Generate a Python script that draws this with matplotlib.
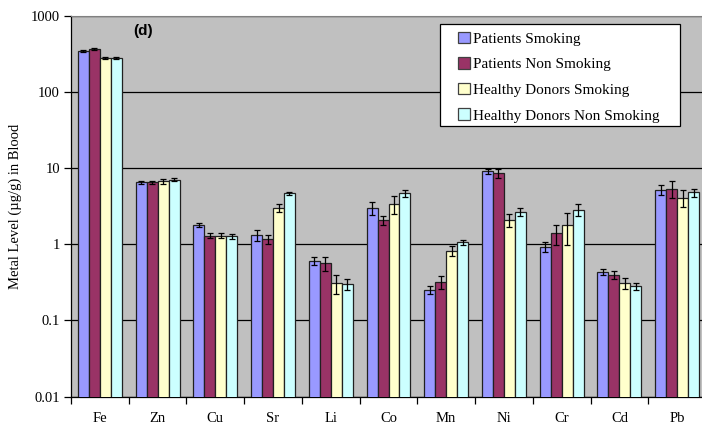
"""
Metal levels in blood for smoking / non smoking patients and healthy donors
"""
import numpy as np
import matplotlib.pyplot as plt
from matplotlib.patches import Rectangle
from matplotlib.ticker import FixedLocator, FixedFormatter, NullLocator

metals = ['Fe', 'Zn', 'Cu', 'Sr', 'Li', 'Co', 'Mn', 'Ni', 'Cr', 'Cd', 'Pb']

groups = {
    'Patients Smoking': '#9999ff',
    'Patients Non Smoking': '#993366',
    'Healthy Donors Smoking': '#ffffcc',
    'Healthy Donors Non Smoking': '#ccffff',
}

pat_smoking = [350, 6.5, 1.79, 1.32, 0.61, 3.0, 0.25, 9.1, 0.93, 0.43, 5.2]
pat_non_smoking = [365, 6.5, 1.3, 1.16, 0.57, 2.08, 0.32, 8.6, 1.39, 0.40, 5.4]
hd_smoking = [280, 6.7, 1.3, 3.0, 0.31, 3.4, 0.82, 2.1, 1.77, 0.31, 4.1]
hd_non_smoking = [280, 7.1, 1.27, 4.66, 0.30, 4.66, 1.06, 2.68, 2.84, 0.28, 4.8]

err_pat_smoking = [10, 0.25, 0.12, 0.2, 0.08, 0.6, 0.03, 0.7, 0.13, 0.04, 0.8]
err_pat_non_smoking = [12, 0.3, 0.1, 0.15, 0.12, 0.3, 0.06, 1.2, 0.4, 0.05, 1.3]
err_hd_smoking = [8, 0.5, 0.1, 0.35, 0.09, 0.9, 0.12, 0.4, 0.8, 0.05, 1.0]
err_hd_non_smoking = [6, 0.3, 0.1, 0.25, 0.05, 0.5, 0.08, 0.3, 0.5, 0.03, 0.6]

y_ticks = [0.01, 0.1, 1, 10, 100, 1000]
y_labels = ['0.01', '0.1', '1', '10', '100', '1000']


def main():
    plt.rcParams['font.family'] = 'Liberation Serif'
    fig = plt.figure(figsize=(7.02, 4.26), dpi=100)
    # plot area runs a bit past the right edge of the figure
    ax = fig.add_axes([71 / 702, 1 - 396.5 / 426, 635 / 702, 380.5 / 426])
    ax.set_facecolor('#c0c0c0')

    values = [pat_smoking, pat_non_smoking, hd_smoking, hd_non_smoking]
    errors = [err_pat_smoking, err_pat_non_smoking, err_hd_smoking, err_hd_non_smoking]
    x = np.arange(len(metals))
    width = 0.19
    for i, (name, vals, errs) in enumerate(zip(groups, values, errors)):
        pos = x + (i - 1.5) * width
        ax.bar(pos, vals, width, color=groups[name], edgecolor='#202020',
               linewidth=0.9, label=name, zorder=3)
        ax.errorbar(pos, vals, yerr=errs, fmt='none', ecolor='black',
                    elinewidth=0.9, capsize=2.5, capthick=0.9, zorder=4)

    ax.set_yscale('log')
    ax.set_ylim(0.01, 1000)
    ax.yaxis.set_major_locator(FixedLocator(y_ticks))
    ax.yaxis.set_major_formatter(FixedFormatter(y_labels))
    ax.yaxis.set_minor_locator(NullLocator())
    ax.grid(axis='y', color='black', linewidth=0.9, zorder=1)
    ax.set_axisbelow(True)

    ax.set_xlim(-0.5, len(metals) - 0.5)
    ax.set_xticks(x)
    ax.set_xticklabels(metals)
    ax.set_xticks(np.arange(len(metals) + 1) - 0.5, minor=True)
    ax.tick_params(axis='x', which='major', length=0, pad=11.5, labelsize=10.5)
    ax.tick_params(axis='x', which='minor', length=5, direction='out', width=0.9)
    ax.tick_params(axis='y', length=5, direction='out', width=0.9, labelsize=10.5, pad=3)

    for side in ['top', 'right']:
        ax.spines[side].set_color('#808080')
    for side in ['left', 'bottom']:
        ax.spines[side].set_color('black')
        ax.spines[side].set_linewidth(0.9)

    ax.set_ylabel('Metal Level (\u00b5g/g) in Blood', fontsize=10.5, labelpad=6)
    fig.text(133 / 702, 1 - 31 / 426, '(d)', family='Liberation Sans',
             fontsize=11, fontweight='bold', va='center', ha='left')

    # legend box drawn by hand: wider side padding than the legend frame allows
    box = Rectangle((439.5 / 702, 1 - 125.5 / 426), 240 / 702, 101.5 / 426,
                    transform=fig.transFigure, facecolor='white', edgecolor='black',
                    linewidth=0.9, zorder=6, clip_on=False)
    ax.add_patch(box)
    leg = ax.legend(loc='upper left', bbox_to_anchor=(455 / 702, 1 - 28.5 / 426),
                    bbox_transform=fig.transFigure, fontsize=11, frameon=False,
                    handlelength=0.8, handleheight=0.8, handletextpad=0.2,
                    labelspacing=0.75, borderpad=0.2, borderaxespad=0)
    leg.set_zorder(7)
    for handle in leg.legend_handles:
        handle.set_edgecolor('#404040')

    plt.savefig('out.png', dpi=100)
    plt.close()


if __name__ == '__main__':
    main()
